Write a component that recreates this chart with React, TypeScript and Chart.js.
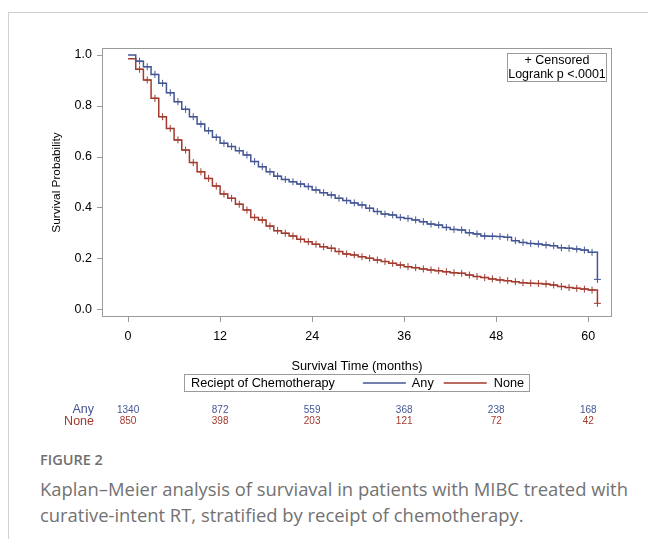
import React, { useEffect, useRef } from "react";
import { Chart, registerables } from "chart.js";

Chart.register(...registerables);

// ---------- data ----------
const MONTHS = [
  0, 1, 2, 3, 4, 5, 6, 7, 8, 9, 10, 11, 12, 13, 14, 15, 16, 17, 18, 19, 20,
  21, 22, 23, 24, 25, 26, 27, 28, 29, 30, 31, 32, 33, 34, 35, 36, 37, 38, 39, 40,
  41, 42, 43, 44, 45, 46, 47, 48, 49, 50, 51, 52, 53, 54, 55, 56, 57, 58, 59, 60,
  61.2,
];

const ANY_SURV = [
  1.0, 0.976, 0.954, 0.924, 0.889, 0.852, 0.817, 0.787, 0.758, 0.729, 0.703,
  0.677, 0.654, 0.641, 0.625, 0.608, 0.582, 0.562, 0.542, 0.525, 0.512,
  0.503, 0.494, 0.484, 0.471, 0.46, 0.451, 0.438, 0.429, 0.42, 0.412,
  0.399, 0.386, 0.376, 0.373, 0.363, 0.359, 0.353, 0.346, 0.337, 0.333,
  0.324, 0.316, 0.314, 0.303, 0.298, 0.29, 0.289, 0.288, 0.285, 0.272,
  0.265, 0.261, 0.259, 0.255, 0.252, 0.244, 0.242, 0.239, 0.235, 0.226,
  0.12,
];

const NONE_SURV = [
  0.985, 0.944, 0.902, 0.83, 0.758, 0.712, 0.667, 0.627, 0.578, 0.542, 0.516,
  0.486, 0.455, 0.438, 0.415, 0.392, 0.363, 0.353, 0.329, 0.311, 0.301,
  0.29, 0.277, 0.268, 0.258, 0.248, 0.242, 0.229, 0.22, 0.216, 0.209,
  0.203, 0.196, 0.19, 0.183, 0.176, 0.17, 0.166, 0.161, 0.157, 0.154,
  0.15, 0.146, 0.144, 0.137, 0.131, 0.127, 0.122, 0.118, 0.115, 0.111,
  0.107, 0.105, 0.104, 0.102, 0.098, 0.092, 0.088, 0.085, 0.082, 0.078,
  0.026,
];

const X_TICKS = [0, 12, 24, 36, 48, 60];
const Y_TICKS = [0, 0.2, 0.4, 0.6, 0.8, 1.0];

const RISK_TIMES = [0, 12, 24, 36, 48, 60];
const ANY_AT_RISK = [1340, 872, 559, 368, 238, 168];
const NONE_AT_RISK = [850, 398, 203, 121, 72, 42];

const GROUP_NAMES = ["Any", "None"];
const LEGEND_TITLE = "Reciept of Chemotherapy";
const INSET_LINES = ["+ Censored", "Logrank p <.0001"];
const X_TITLE = "Survival Time (months)";
const Y_TITLE = "Survival Probability";
const FIG_LABEL = "FIGURE 2";
const CAPTION =
  "Kaplan\u2013Meier analysis of surviaval in patients with MIBC treated with curative-intent RT, stratified by receipt of chemotherapy.";

// ---------- style ----------
const BLUE = "#445694";
const RED = "#A23A2E";
const AXIS = "#9a9a9a";
const FONT = "'Liberation Sans', Arial, sans-serif";
const CENSOR_OFFSET = 0.5;

function censorPoints(surv: number[]) {
  const pts: { x: number; y: number }[] = [];
  for (let i = 1; i < MONTHS.length - 1; i++) {
    pts.push({ x: MONTHS[i] + CENSOR_OFFSET, y: surv[i] });
  }
  const last = MONTHS.length - 1;
  pts.push({ x: MONTHS[last], y: surv[last] });
  return pts;
}

const overlayPlugin = {
  id: "kmOverlay",
  afterDraw(chart: any) {
    const { ctx, chartArea: a, scales } = chart;
    ctx.save();
    // plot frame
    ctx.strokeStyle = AXIS;
    ctx.lineWidth = 1;
    ctx.strokeRect(a.left + 0.5, a.top + 0.5, a.right - a.left - 1, a.bottom - a.top - 1);

    // inset box (top right)
    const bw = 100, bh = 29;
    const bx = a.right - 5 - bw, by = a.top + 5;
    ctx.fillStyle = "#fff";
    ctx.fillRect(bx, by, bw, bh);
    ctx.strokeStyle = AXIS;
    ctx.strokeRect(bx + 0.5, by + 0.5, bw - 1, bh - 1);
    ctx.fillStyle = "#000";
    ctx.font = `12.5px ${FONT}`;
    ctx.textAlign = "center";
    ctx.textBaseline = "middle";
    ctx.fillText(INSET_LINES[0], bx + bw / 2, by + 8);
    ctx.fillText(INSET_LINES[1], bx + bw / 2, by + 21.5);

    // bottom legend
    ctx.font = `12.7px ${FONT}`;
    const wTitle = ctx.measureText(LEGEND_TITLE).width;
    const wA = ctx.measureText(GROUP_NAMES[0]).width;
    const wN = ctx.measureText(GROUP_NAMES[1]).width;
    const lineLen = 43;
    const total = 7 + wTitle + 28 + lineLen + 6 + wA + 10 + lineLen + 7 + wN + 5;
    const cx = (a.left + a.right) / 2;
    const lx = Math.round(cx - total / 2);
    const ly = 374;
    const lh = 17;
    ctx.strokeStyle = AXIS;
    ctx.strokeRect(lx + 0.5, ly + 0.5, Math.round(total), lh);
    const my = ly + lh / 2 + 0.5;
    ctx.textAlign = "left";
    ctx.fillStyle = "#000";
    let x = lx + 7;
    ctx.fillText(LEGEND_TITLE, x, my);
    x += wTitle + 28;
    ctx.strokeStyle = BLUE;
    ctx.lineWidth = 1.3;
    ctx.beginPath();
    ctx.moveTo(x, my);
    ctx.lineTo(x + lineLen, my);
    ctx.stroke();
    x += lineLen + 6;
    ctx.fillText(GROUP_NAMES[0], x, my);
    x += wA + 10;
    ctx.strokeStyle = RED;
    ctx.beginPath();
    ctx.moveTo(x, my);
    ctx.lineTo(x + lineLen, my);
    ctx.stroke();
    x += lineLen + 7;
    ctx.fillText(GROUP_NAMES[1], x, my);

    // at-risk table
    const rows = [
      { name: GROUP_NAMES[0], vals: ANY_AT_RISK, color: BLUE, y: 410 },
      { name: GROUP_NAMES[1], vals: NONE_AT_RISK, color: RED, y: 421.5 },
    ];
    for (const r of rows) {
      ctx.fillStyle = r.color;
      ctx.font = `12.5px ${FONT}`;
      ctx.textAlign = "right";
      ctx.fillText(r.name, 94, r.y);
      ctx.font = `10px ${FONT}`;
      ctx.textAlign = "center";
      RISK_TIMES.forEach((t, i) => {
        ctx.fillText(String(r.vals[i]), scales.x.getPixelForValue(t), r.y);
      });
    }
    ctx.restore();
  },
};

function KMChart() {
  const ref = useRef<HTMLCanvasElement | null>(null);
  useEffect(() => {
    if (!ref.current) return;
    const chart = new Chart(ref.current, {
      type: "line",
      data: {
        datasets: [
          {
            label: GROUP_NAMES[0],
            data: MONTHS.map((t, i) => ({ x: t, y: ANY_SURV[i] })),
            stepped: "before",
            borderColor: BLUE,
            borderWidth: 1.5,
            pointRadius: 0,
            fill: false,
          },
          {
            label: GROUP_NAMES[1],
            data: MONTHS.map((t, i) => ({ x: t, y: NONE_SURV[i] })),
            stepped: "before",
            borderColor: RED,
            borderWidth: 1.5,
            pointRadius: 0,
            fill: false,
          },
          {
            label: GROUP_NAMES[0] + " censored",
            data: censorPoints(ANY_SURV),
            showLine: false,
            pointStyle: "cross",
            pointRadius: 3.5,
            borderColor: BLUE,
            borderWidth: 1,
          },
          {
            label: GROUP_NAMES[1] + " censored",
            data: censorPoints(NONE_SURV),
            showLine: false,
            pointStyle: "cross",
            pointRadius: 3.5,
            borderColor: RED,
            borderWidth: 1,
          },
        ],
      } as any,
      options: {
        animation: false,
        responsive: false,
        devicePixelRatio: 1,
        layout: { padding: { left: 50, right: 36, top: 48, bottom: 60 } },
        plugins: { legend: { display: false }, tooltip: { enabled: false } },
        scales: {
          x: {
            type: "linear",
            min: -3.4,
            max: 63.1,
            afterBuildTicks: (s: any) => {
              s.ticks = X_TICKS.map((v) => ({ value: v }));
            },
            afterFit: (s: any) => {
              s.height = 63;
            },
            grid: { drawOnChartArea: false, drawTicks: true, tickLength: 5, color: AXIS },
            border: { display: false },
            ticks: {
              padding: 7,
              color: "#000",
              font: { family: FONT, size: 12.5 },
              maxRotation: 0,
              callback: (v: any) => String(v),
            },
            title: {
              display: true,
              text: X_TITLE,
              color: "#000",
              font: { family: FONT, size: 12.8 },
              padding: { top: 0, bottom: 5.8 },
            },
          },
          y: {
            type: "linear",
            min: -0.0275,
            max: 1.0275,
            afterBuildTicks: (s: any) => {
              s.ticks = Y_TICKS.map((v) => ({ value: v }));
            },
            afterFit: (s: any) => {
              s.width = 52;
            },
            grid: { drawOnChartArea: false, drawTicks: true, tickLength: 5, color: AXIS },
            border: { display: false },
            ticks: {
              padding: 5,
              color: "#000",
              font: { family: FONT, size: 12.5 },
              callback: (v: any) => Number(v).toFixed(1),
            },
            title: {
              display: true,
              text: Y_TITLE,
              color: "#000",
              font: { family: FONT, size: 11.8 },
              padding: { top: 0, bottom: 0 },
            },
          },
        },
      } as any,
      plugins: [overlayPlugin],
    });
    return () => chart.destroy();
  }, []);
  return (
    <canvas
      ref={ref}
      width={648}
      height={440}
      style={{ position: "absolute", left: 0, top: 0, width: 648, height: 440 }}
    />
  );
}

export default function App() {
  return (
    <div
      style={{
        position: "absolute",
        left: 0,
        top: 0,
        width: 648,
        height: 539,
        background: "#fff",
        overflow: "hidden",
      }}
    >
      <div
        style={{
          position: "absolute",
          left: 8,
          top: 12,
          width: 800,
          height: 700,
          borderLeft: "1px solid #cfcfcf",
          borderTop: "1px solid #cfcfcf",
        }}
      />
      <KMChart />
      <div
        style={{
          position: "absolute",
          left: 40,
          top: 451,
          fontFamily: "'Open Sans', sans-serif",
          fontSize: 14.5,
          fontWeight: 600,
          lineHeight: "18px",
          color: "#707070",
        }}
      >
        {FIG_LABEL}
      </div>
      <div
        style={{
          position: "absolute",
          left: 40,
          top: 476,
          width: 600,
          fontFamily: "'Open Sans', sans-serif",
          fontSize: 18.4,
          lineHeight: "26px",
          color: "#727272",
        }}
      >
        {CAPTION}
      </div>
    </div>
  );
}
